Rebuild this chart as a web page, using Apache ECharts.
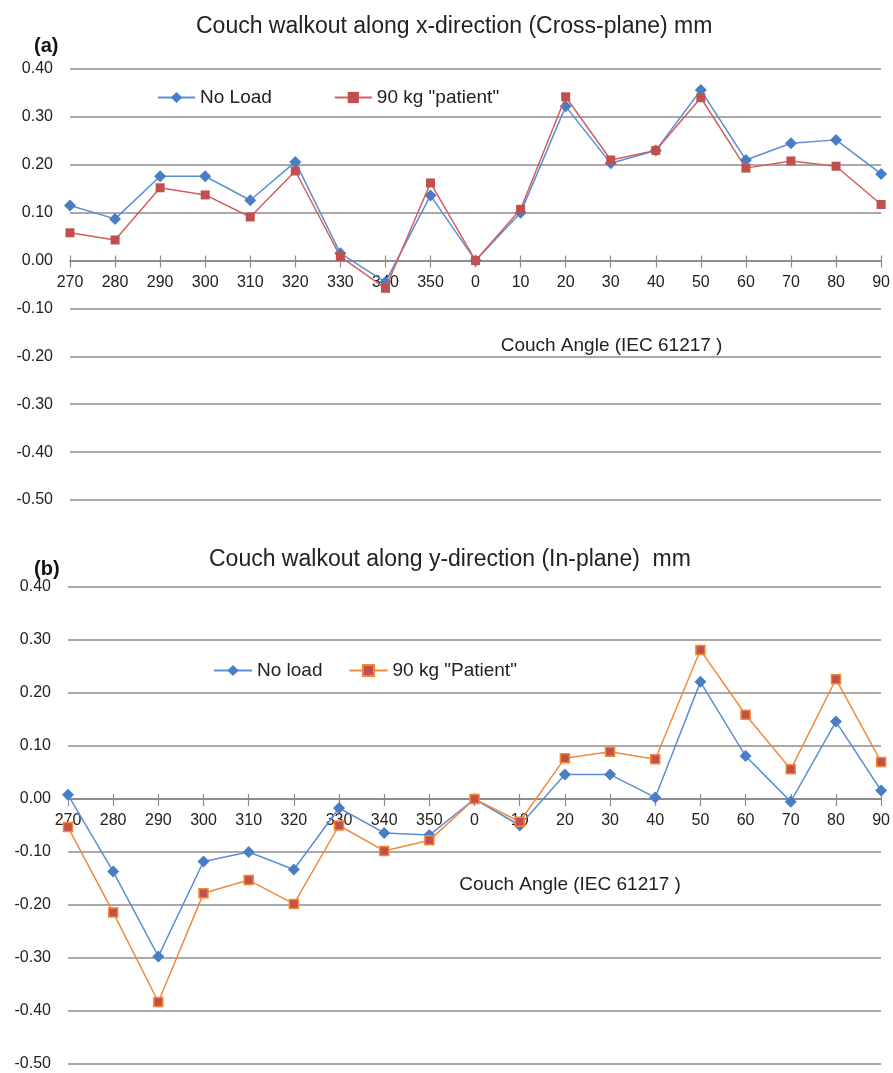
<!DOCTYPE html>
<html>
<head>
<meta charset="utf-8">
<script src="https://cdn.jsdelivr.net/npm/echarts@6/dist/echarts.min.js"></script>
<style>
html,body{margin:0;padding:0;background:#fff;}
#c{width:893px;height:1073px;}
</style>
</head>
<body>
<div id="c"></div>
<script>
const angles = ['270','280','290','300','310','320','330','340','350','0','10','20','30','40','50','60','70','80','90'];
const xNoLoad = [0.115,0.087,0.176,0.176,0.126,0.206,0.015,-0.045,0.136,0.00,0.10,0.322,0.203,0.230,0.356,0.210,0.245,0.252,0.181];
const xPatient = [0.058,0.043,0.152,0.137,0.091,0.187,0.008,-0.058,0.162,0.00,0.107,0.342,0.210,0.230,0.340,0.193,0.208,0.197,0.117];
const yNoLoad = [0.008,-0.137,-0.297,-0.118,-0.100,-0.133,-0.017,-0.064,-0.068,0.00,-0.050,0.046,0.046,0.003,0.221,0.081,-0.005,0.146,0.016];
const yPatient = [-0.053,-0.214,-0.383,-0.178,-0.153,-0.198,-0.050,-0.098,-0.078,0.00,-0.043,0.077,0.089,0.075,0.281,0.159,0.056,0.226,0.070];
const yTicks = {min:-0.5, max:0.4, step:0.1};

const chart = echarts.init(document.getElementById('c'));
const gridColor = '#8c8c8c';
const fmt = v => (Math.abs(v) < 1e-9 ? 0 : v).toFixed(2);
const grids = [
  {left:70, right:8, top:69, height:431},
  {left:68, right:10, top:587, height:477}
];

// offset that moves a bottom-positioned axis up to the y = 0 line
function zeroOffset(g) {
  return -((0 - yTicks.min) / (yTicks.max - yTicks.min)) * grids[g].height;
}

function xAxesFor(gridIndex, namePad) {
  return [
    { // axis line at zero with ticks pointing down
      type:'category', gridIndex, data: angles, boundaryGap:false, position:'bottom',
      axisLine:{onZero:true, onZeroAxisIndex:gridIndex, lineStyle:{color:gridColor, width:1.5}},
      axisTick:{show:true, length:7, lineStyle:{color:gridColor, width:1.2}},
      axisLabel:{show:false}, splitLine:{show:false}, z:1
    },
    { // ticks pointing up from zero line
      type:'category', gridIndex, data: angles, boundaryGap:false, position:'top',
      axisLine:{onZero:true, onZeroAxisIndex:gridIndex, lineStyle:{color:gridColor, width:1.5}},
      axisTick:{show:true, length:5, lineStyle:{color:gridColor, width:1.2}},
      axisLabel:{show:false}, splitLine:{show:false}, z:1
    },
    { // labels and name just below the zero line
      type:'category', gridIndex, data: angles, boundaryGap:false, position:'bottom',
      offset: zeroOffset(gridIndex),
      axisLine:{show:false, onZero:false}, axisTick:{show:false},
      axisLabel:{color:'#222', fontSize:16, margin:14, fontFamily:'Liberation Sans, Arial', interval:0},
      name:'Couch Angle (IEC 61217 )', nameLocation:'middle', nameGap:76,
      nameTextStyle:{color:'#222', fontSize:19, fontFamily:'Liberation Sans, Arial', padding:[0,0,0,namePad]},
      splitLine:{show:false}, z:1
    }
  ];
}
function yAxisFor(gridIndex) {
  return {
    type:'value', gridIndex, min:yTicks.min, max:yTicks.max, interval:yTicks.step,
    axisLine:{show:false, onZero:false}, axisTick:{show:false},
    axisLabel:{color:'#222', fontSize:16, margin:17, fontFamily:'Liberation Sans, Arial', formatter:fmt},
    splitLine:{show:true, lineStyle:{color:gridColor, width:1.5}}
  };
}

const option = {
  animation:false,
  backgroundColor:'#fff',
  title:[
    {text:'Couch walkout along x-direction (Cross-plane) mm', left:191, top:10,
     textStyle:{fontSize:23, fontWeight:'normal', color:'#222', fontFamily:'Liberation Sans, Arial'}},
    {text:'(a)', left:29, top:31, textStyle:{fontSize:20, fontWeight:'bold', color:'#111', fontFamily:'Liberation Sans, Arial'}},
    {text:'Couch walkout along y-direction (In-plane)  mm', left:204, top:543,
     textStyle:{fontSize:23, fontWeight:'normal', color:'#222', fontFamily:'Liberation Sans, Arial'}},
    {text:'(b)', left:29, top:554, textStyle:{fontSize:20, fontWeight:'bold', color:'#111', fontFamily:'Liberation Sans, Arial'}}
  ],
  legend:[
    {left:152, top:83, itemWidth:37, itemHeight:14, itemGap:62,
     textStyle:{fontSize:19, color:'#222', fontFamily:'Liberation Sans, Arial'},
     data:['No Load','90 kg "patient"']},
    {left:208, top:656, itemWidth:38, itemHeight:14, itemGap:26,
     textStyle:{fontSize:19, color:'#222', fontFamily:'Liberation Sans, Arial'},
     data:['No load','90 kg "Patient"']}
  ],
  grid: grids,
  xAxis:[...xAxesFor(0,272), ...xAxesFor(1,191)],
  yAxis:[yAxisFor(0), yAxisFor(1)],
  series:[
    {name:'No Load', type:'line', xAxisIndex:0, yAxisIndex:0, data:xNoLoad,
     symbol:'diamond', symbolSize:12, lineStyle:{color:'#5b8fd4', width:1.5},
     itemStyle:{color:'#4a7ec4'}, z:3},
    {name:'90 kg "patient"', type:'line', xAxisIndex:0, yAxisIndex:0, data:xPatient,
     symbol:'rect', symbolSize:9, lineStyle:{color:'#d0605d', width:1.5},
     itemStyle:{color:'#c0504d'}, z:4},
    {name:'No load', type:'line', xAxisIndex:3, yAxisIndex:1, data:yNoLoad,
     symbol:'diamond', symbolSize:12, lineStyle:{color:'#5b8fd4', width:1.5},
     itemStyle:{color:'#4a7ec4'}, z:3},
    {name:'90 kg "Patient"', type:'line', xAxisIndex:3, yAxisIndex:1, data:yPatient,
     symbol:'rect', symbolSize:9, lineStyle:{color:'#f28a3c', width:1.5},
     itemStyle:{color:'#c0504d', borderColor:'#f7882f', borderWidth:1.5}, z:4}
  ]
};
chart.setOption(option);
</script>
</body>
</html>
